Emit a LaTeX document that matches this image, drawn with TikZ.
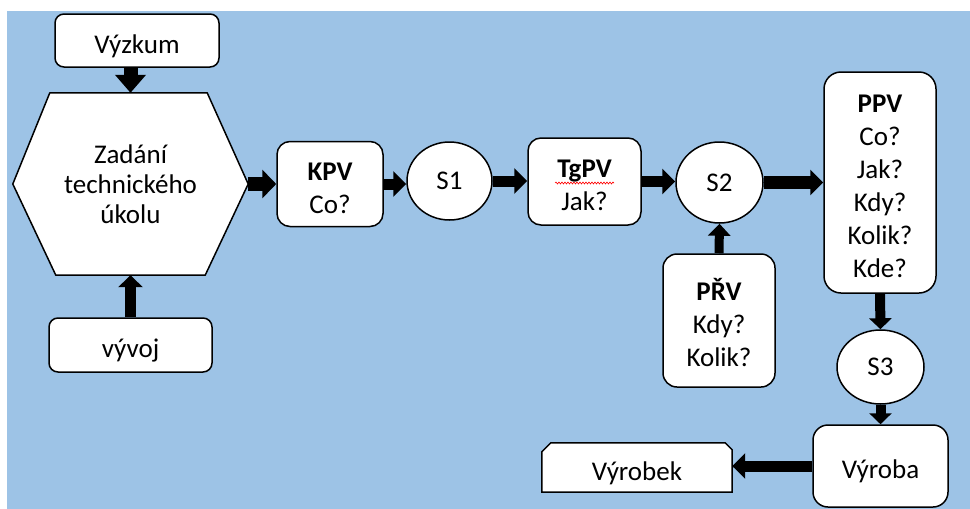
\documentclass[tikz,border=0pt]{standalone}
\usepackage{fontspec}
\setmainfont{Carlito}
\usetikzlibrary{arrows.meta,shapes.geometric,decorations.pathmorphing,calc,backgrounds}
\definecolor{bgblue}{HTML}{9DC3E6}
% struts giving every text block the same line metrics
\newcommand\topstrut{\rule{0pt}{33.5pt}}
\newcommand\botstrut{\rule[-8pt]{0pt}{0pt}}

\begin{document}
\begin{tikzpicture}[x=1pt,y=-1pt,
  txt/.style={font=\fontsize{27}{33}\selectfont, align=center, text=black},
  box/.style={txt, draw=black, line width=1.5pt, fill=white, rounded corners=#1, inner sep=0pt},
  box/.default=10pt,
  oval/.style={txt, ellipse, draw=black, line width=1.5pt, fill=white, inner sep=0pt},
  outline/.style={draw=black, line width=1.5pt, fill=white, line join=round},
  blk/.style={line width=11pt, -{Triangle[length=13pt,width=25pt]}},
]
\useasboundingbox (0,0) rectangle (970,509);
\begin{scope}[on background layer]
  \fill[bgblue] (7,11) rectangle (970,509);
\end{scope}

% input boxes and the task hexagon
\node[box=9pt, minimum width=164pt, minimum height=53pt] (vyzkum) at (137,40.5) {\topstrut Výzkum\botstrut};
\node[box=9pt, minimum width=163pt, minimum height=54pt] (vyvoj) at (130.5,345) {\topstrut vývoj\botstrut};
\node[txt, font=\fontsize{27}{30}\selectfont, minimum width=235pt, minimum height=182pt, inner sep=0pt] (zad) at (130.5,184) {Zadání\\technického\\úkolu};
\begin{scope}[on background layer]
  \path[outline] (zad.west) -- ($(zad.north west)+(37,0)$) -- ($(zad.north east)+(-41,0)$)
    -- (zad.east) -- ($(zad.south east)+(-43,0)$) -- ($(zad.south west)+(43,0)$) -- cycle;
\end{scope}

% preparation stages
\node[box=13pt, minimum width=106pt, minimum height=85pt] (kpv) at (330,184) {\topstrut\textbf{KPV}\\Co?\botstrut};
\node[oval, minimum width=85pt, minimum height=78pt] (s1) at (449.5,181) {S1};
\node[box=13pt, minimum width=113pt, minimum height=87pt] (tgpv) at (584.5,181.5) {\topstrut\textbf{TgPV}\\Jak?\botstrut};
\node[oval, minimum width=87pt, minimum height=81pt] (s2) at (719.5,182.5) {S2};
\node[box=17pt, minimum width=112pt, minimum height=221pt] (ppv) at (880,182.5) {\topstrut\textbf{PPV}\\Co?\\Jak?\\Kdy?\\Kolik?\\Kde?\botstrut};
\node[box=14pt, minimum width=112pt, minimum height=133pt] (prv) at (719,320.5) {\topstrut\textbf{PŘV}\\Kdy?\\Kolik?\botstrut};
\node[oval, minimum width=87pt, minimum height=74pt] (s3) at (880.5,367) {S3};
\node[box=15pt, minimum width=135pt, minimum height=82pt] (vyroba) at (880.5,466) {\topstrut Výroba\botstrut};
\node[txt, minimum width=190pt, minimum height=49pt, inner sep=0pt] (vyrobek) at (637,467.5) {\topstrut Výrobek\botstrut};
\begin{scope}[on background layer]
  \path[outline, line join=miter] (vyrobek.south west) -- ($(vyrobek.north west)+(0,9)$) -- ($(vyrobek.north west)+(9,0)$)
    -- ($(vyrobek.north east)+(-7,0)$) -- ($(vyrobek.north east)+(0,7)$) -- (vyrobek.south east) -- cycle;
\end{scope}

% spell-check underline
\draw[red, line width=0.6pt, decorate, decoration={snake, amplitude=1pt, segment length=3pt}] (555,183) -- (614,183);

% block arrows
\draw[blk, line width=14pt, -{Triangle[length=18pt,width=30pt]}] (vyzkum.south -| zad.north) -- (zad.north);
\draw[blk, -{Triangle[length=12pt,width=24pt]}] (vyvoj.north) -- (zad.south);
\draw[blk, line width=14pt, -{Triangle[length=14pt,width=28pt]}] (zad.east) -- (zad.east -| kpv.west);
\draw[blk] (kpv.east) -- (kpv.east -| s1.west);
\draw[blk] (s1.east) -- (s1.east -| tgpv.west);
\draw[blk] (tgpv.east) -- (tgpv.east -| s2.west);
\draw[blk, line width=13pt] (s2.east) -- (s2.east -| ppv.west);
\draw[blk, line width=9pt, -{Triangle[length=12pt,width=22pt]}] (prv.north) -- (s2.south);
\draw[blk, line width=10pt, -{Triangle[length=11pt,width=22pt]}] (ppv.south) -- (s3.north);
\draw[blk, line width=10pt, -{Triangle[length=11pt,width=22pt]}] (s3.south) -- (vyroba.north);
\draw[blk] (vyroba.west) -- (vyroba.west -| vyrobek.east);
\end{tikzpicture}
\end{document}
